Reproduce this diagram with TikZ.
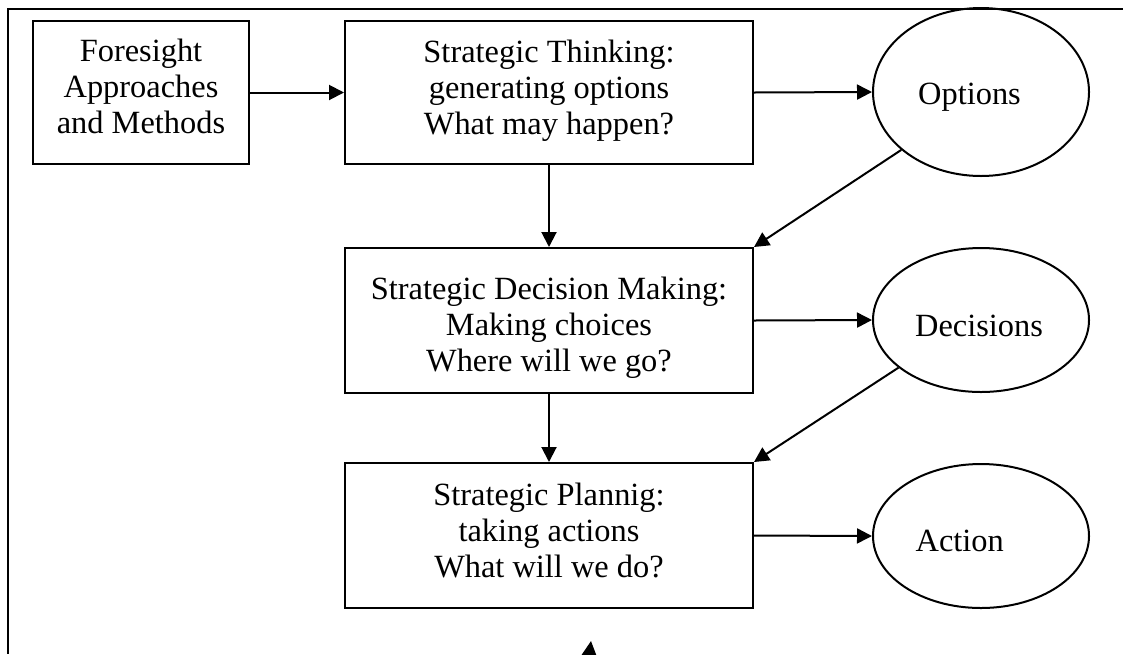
\documentclass[tikz,border=0pt]{standalone}
\usepackage{fontspec}
\setmainfont{Liberation Serif}
\usetikzlibrary{arrows.meta,shapes.geometric}

\begin{document}
\begin{tikzpicture}[
    x=0.5pt, y=-0.5pt,
    stage/.style={draw, line width=1pt, rectangle, inner sep=0pt},
    result/.style={draw, line width=1pt, ellipse, inner sep=0pt, minimum width=108pt},
    txt/.style={inner sep=0pt, align=center, font=\fontsize{16.2pt}{18pt}\selectfont},
    flow/.style={line width=1pt, -{Triangle[length=7.5pt,width=7.5pt]}}
  ]
  \useasboundingbox (0,0) rectangle (1123,654);
  \clip (0,0) rectangle (1123,654);

  % outer frame (top and left edges)
  \draw[line width=1.1pt] (1123,9) -- (8,9) -- (8,654);

  % process boxes
  \node[stage, minimum width=108pt, minimum height=71.5pt] (fore) at (141,92.5) {};
  \node[stage, minimum width=204pt, minimum height=71.5pt] (think) at (549,92.5) {};
  \node[stage, minimum width=204pt, minimum height=72.5pt] (decide) at (549,320.5) {};
  \node[stage, minimum width=204pt, minimum height=72.5pt] (plan) at (549,535.5) {};

  \node[txt] (foreT) at (141,86.5) {Foresight\\Approaches\\and Methods};
  \node[txt] (thinkT) at (549,91.2) {Strategic Thinking:\\generating options\\What may happen?};
  \node[txt] (decideT) at (549,328.2) {Strategic Decision Making:\\Making choices\\Where will we go?};
  \node[txt] (planT) at (549,530.5) {Strategic Plannig:\\taking actions\\What will we do?};

  % outcomes
  \node[result, minimum height=84pt] (opt) at (981,92) {};
  \node[result, minimum height=72pt] (dec) at (981,320) {};
  \node[result, minimum height=72pt] (act) at (981,536) {};

  \node[txt, anchor=base] (optT) at (969.5,104) {Options};
  \node[txt, anchor=base] (decT) at (979,336.7) {Decisions};
  \node[txt, anchor=base] (actT) at (959.7,551.7) {Action};

  % connectors
  \draw[flow] (fore.east) -- (think.west);
  \draw[flow] (think.east) -- (opt.west);
  \draw[flow] (think.south) -- (decide.north);
  \draw[flow] (decide.south) -- (plan.north);
  \draw[flow] (decide.east) -- (dec.west);
  \draw[flow] (plan.east) -- (act.west);
  \draw[flow] (opt.216) -- (decide.north east);
  \draw[flow] (dec.210) -- (plan.north east);

  % feedback arrow entering from below
  \coordinate (fbTail) at (584,700);
  \coordinate (fbTip) at (591,641);
  \draw[flow] (fbTail) -- (fbTip);
\end{tikzpicture}
\end{document}
